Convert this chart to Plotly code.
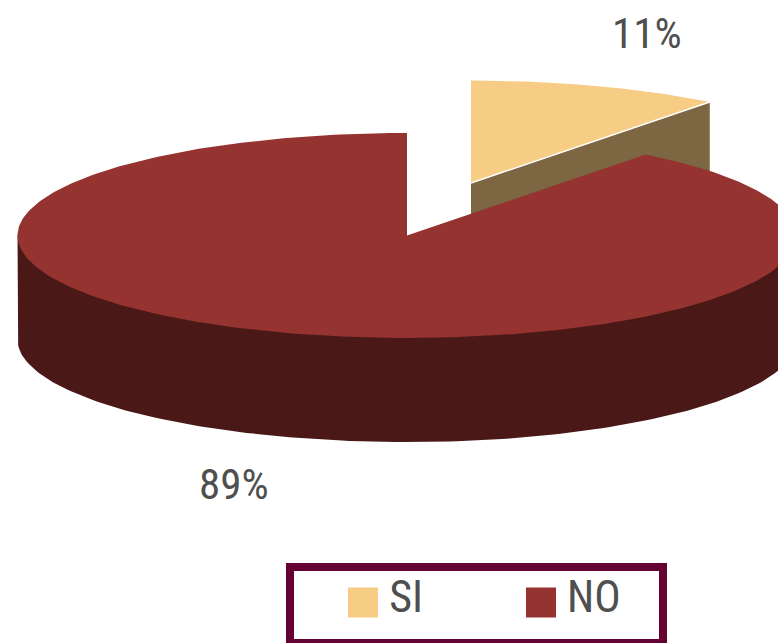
import numpy as np
import plotly.graph_objects as go

categories = ["SI", "NO"]
values = [10.5, 89.5]
pct_labels = ["11%", "89%"]
top_colors = ["#f7cd85", "#943330"]
side_colors = ["#7d6642", "#4a1917"]

W, H = 778, 643
RX, RY, DEPTH = 389.5, 102.5, 104
CENTERS = {"SI": (471, 183), "NO": (407, 235.5)}
TXT = "#4f4f4f"
FONT = "Roboto"

frac = np.array(values) / sum(values) * 2 * np.pi
split = frac[0]


def pt(center, a):
    a = np.asarray(a, dtype=float)
    return center[0] + RX * np.sin(a), center[1] - RY * np.cos(a)


def poly(fig, x, y, color):
    fig.add_trace(go.Scatter(x=list(x), y=list(y), mode="lines", fill="toself",
                             fillcolor=color, line=dict(width=0), hoverinfo="skip",
                             showlegend=False))


fig = go.Figure()

cs = CENTERS["SI"]
tipx, tipy = pt(cs, split)
poly(fig, [cs[0], tipx, tipx, cs[0]],
     [cs[1], tipy, tipy + DEPTH, cs[1] + DEPTH], side_colors[0])
a = np.linspace(0, split, 60)
ax, ay = pt(cs, a)
poly(fig, np.r_[cs[0], ax], np.r_[cs[1], ay], top_colors[0])
fig.add_trace(go.Scatter(x=[cs[0], float(tipx)], y=[cs[1], float(tipy)], mode="lines",
                         line=dict(color="white", width=1.5), hoverinfo="skip",
                         showlegend=False))

cn = CENTERS["NO"]
a = np.linspace(np.pi / 2, 3 * np.pi / 2, 160)
ax, ay = pt(cn, a)
# wall runs a little under the top face so no seam shows between them
inx = cn[0] + (ax - cn[0]) * 0.97
iny = cn[1] + (ay - cn[1]) * 0.97
poly(fig, np.r_[ax[0], inx, ax[-1], ax[::-1]],
     np.r_[ay[0], iny, ay[-1], ay[::-1] + DEPTH], side_colors[1])
a = np.linspace(split, 2 * np.pi, 360)
ax, ay = pt(cn, a)
poly(fig, np.r_[cn[0], ax], np.r_[cn[1], ay], top_colors[1])

legend_x = [363, 541]
fig.add_trace(go.Scatter(x=legend_x, y=[602.5, 602.5], mode="markers",
                         marker=dict(symbol="square", size=30, color=top_colors,
                                     line=dict(width=0)),
                         hoverinfo="skip", showlegend=False))

ann = [
    (646.5, 33, pct_labels[0], 43, 400),
    (233.5, 484, pct_labels[1], 43, 400),
    (405.5, 597, categories[0], 44, 400),
    (593.5, 597, categories[1], 44, 400),
]
for x, y, t, s, w in ann:
    fig.add_annotation(x=x, y=y, text=t, showarrow=False, xanchor="center", yanchor="middle",
                       font=dict(family=FONT, size=s, color=TXT, weight=w))

fig.add_shape(type="rect", x0=290, x1=663, y0=567, y1=643,
              line=dict(color="#660033", width=8), fillcolor="rgba(0,0,0,0)", layer="below")

fig.update_layout(width=W, height=H, margin=dict(l=0, r=0, t=0, b=0),
                  paper_bgcolor="white", plot_bgcolor="white", showlegend=False,
                  xaxis=dict(range=[0, W], visible=False, fixedrange=True),
                  yaxis=dict(range=[H, 0], visible=False, fixedrange=True))

page_css = ("document.body.style.margin='0';document.body.style.overflow='hidden';"
            "var s=document.createElement('style');"
            "s.textContent='.annotation-text{font-stretch:80% !important;}';"
            "document.head.appendChild(s);")
fig.write_html("out.html", config={"displayModeBar": False}, post_script=page_css)
